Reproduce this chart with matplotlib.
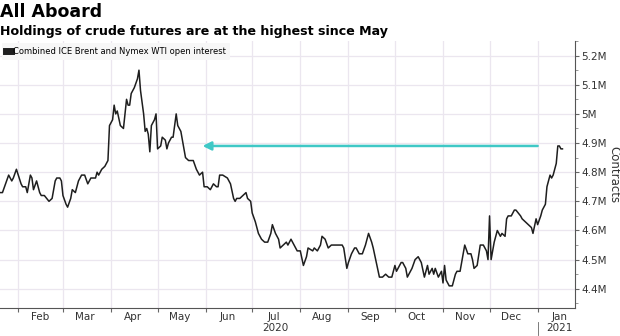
import numpy as np
import pandas as pd
import matplotlib
matplotlib.use("Agg")
import matplotlib.pyplot as plt
import matplotlib.dates as mdates

# days since 2020-01-01
day = [19, 21, 23, 25, 26, 27, 28, 30, 33, 34, 36, 37, 39, 40, 41, 43, 45, 46, 48, 51,
       53, 55, 56, 58, 59, 60, 62, 63, 65, 66, 68, 70, 72, 74, 76, 78, 81, 82, 83, 85,
       87, 88, 89, 90, 92, 93, 94, 95, 97, 99, 101, 102, 103, 104, 106, 108, 109, 110, 112, 113,
       114, 115, 116, 117, 119, 120, 121, 123, 124, 126, 127, 128, 130, 131, 133, 134, 136, 139, 141, 143,
       144, 146, 148, 150, 151, 153, 155, 157, 159, 160, 161, 163, 166, 168, 170, 171, 172, 174, 176, 178,
       179, 181, 182, 184, 186, 188, 190, 192, 194, 195, 197, 199, 200, 202, 204, 205, 207, 208, 211, 213,
       215, 217, 218, 221, 222, 224, 226, 227, 229, 231, 233, 235, 237, 240, 241, 243, 244, 246, 248, 249,
       251, 253, 255, 257, 259, 260, 262, 264, 266, 268, 270, 272, 274, 275, 278, 279, 281, 282, 285, 287,
       289, 291, 293, 295, 296, 298, 299, 300, 302, 304, 305, 306, 307, 308, 309, 311, 313, 314, 316, 318,
       319, 321, 323, 324, 325, 327, 329, 331, 333, 334, 335, 336, 338, 340, 342, 343, 345, 346, 347, 349,
       351, 352, 355, 356, 358, 360, 362, 363, 365, 366, 368, 369, 371, 372, 374, 375, 376, 378, 379, 380,
       381, 382]
# open interest, million contracts
oi = [4.73, 4.73, 4.76, 4.79, 4.78, 4.77, 4.78, 4.81, 4.76, 4.75, 4.75, 4.73, 4.79, 4.78, 4.74, 4.77, 4.73, 4.72, 4.72, 4.70,
      4.71, 4.77, 4.78, 4.78, 4.77, 4.72, 4.69, 4.68, 4.71, 4.74, 4.73, 4.77, 4.79, 4.79, 4.76, 4.78, 4.78, 4.80, 4.79, 4.81,
      4.82, 4.83, 4.84, 4.96, 4.98, 5.03, 5.00, 5.01, 4.96, 4.95, 5.05, 5.03, 5.03, 5.07, 5.09, 5.12, 5.15, 5.08, 5.00, 4.94,
      4.95, 4.93, 4.87, 4.96, 4.98, 5.00, 4.88, 4.89, 4.92, 4.91, 4.88, 4.90, 4.92, 4.92, 5.00, 4.96, 4.94, 4.85, 4.84, 4.84,
      4.84, 4.81, 4.79, 4.80, 4.75, 4.75, 4.74, 4.76, 4.75, 4.75, 4.79, 4.79, 4.78, 4.76, 4.71, 4.70, 4.71, 4.71, 4.72, 4.73,
      4.71, 4.70, 4.66, 4.63, 4.59, 4.57, 4.56, 4.56, 4.59, 4.62, 4.59, 4.57, 4.54, 4.55, 4.56, 4.55, 4.57, 4.56, 4.53, 4.53,
      4.48, 4.51, 4.54, 4.53, 4.54, 4.53, 4.55, 4.58, 4.57, 4.54, 4.55, 4.55, 4.55, 4.55, 4.54, 4.47, 4.49, 4.52, 4.54, 4.54,
      4.52, 4.52, 4.55, 4.59, 4.56, 4.54, 4.49, 4.44, 4.44, 4.45, 4.44, 4.44, 4.48, 4.46, 4.49, 4.49, 4.47, 4.44, 4.47, 4.50,
      4.51, 4.49, 4.44, 4.48, 4.45, 4.47, 4.45, 4.47, 4.44, 4.46, 4.42, 4.48, 4.43, 4.42, 4.41, 4.41, 4.45, 4.46, 4.46, 4.52,
      4.55, 4.52, 4.52, 4.50, 4.47, 4.48, 4.55, 4.55, 4.53, 4.50, 4.65, 4.50, 4.56, 4.60, 4.58, 4.59, 4.58, 4.64, 4.65, 4.65,
      4.67, 4.67, 4.65, 4.64, 4.63, 4.62, 4.61, 4.59, 4.64, 4.62, 4.65, 4.67, 4.69, 4.75, 4.79, 4.78, 4.79, 4.83, 4.89, 4.89,
      4.88, 4.88]

yticks = [4.4, 4.5, 4.6, 4.7, 4.8, 4.9, 5.0, 5.1, 5.2]
ytick_labels = ["4.4M", "4.5M", "4.6M", "4.7M", "4.8M", "4.9M", "5M", "5.1M", "5.2M"]
arrow_level = 4.89
arrow_start = "2021-01-01"
arrow_end = "2020-05-30"

dates = pd.Timestamp("2020-01-01") + pd.to_timedelta(day, unit="D")

fig = plt.figure(figsize=(6.2, 3.36), dpi=100)
ax = fig.add_axes([0.0, 0.0833, 0.927, 0.7946])

grid_c = "#ebe6ef"
ax.plot(dates, oi, color="#1e1e1e", lw=1.1, label="Combined ICE Brent and Nymex WTI open interest", zorder=3)

# arrow pointing back to the May level
ax.annotate("", xy=(pd.Timestamp(arrow_end), arrow_level), xytext=(pd.Timestamp(arrow_start), arrow_level),
            arrowprops=dict(arrowstyle="-|>,head_length=0.5,head_width=0.25", color="#3fc8c6", lw=1.8,
                            shrinkA=0, shrinkB=0), zorder=2)

ax.set_xlim(pd.Timestamp("2020-01-20 10:00"), pd.Timestamp("2021-01-24 22:00"))
ax.set_ylim(4.334, 5.213)

# y axis on the right
ax.yaxis.tick_right()
ax.yaxis.set_label_position("right")
ax.set_yticks(yticks)
ax.set_yticklabels(ytick_labels, fontsize=7.5, color="#333333")
ax.set_yticks(np.arange(4.35, 5.25, 0.1), minor=True)
ax.tick_params(axis="y", which="major", length=3, width=0.8, color="#666666", pad=1.5)
ax.tick_params(axis="y", which="minor", length=2, width=0.6, color="#888888")
ax.set_ylabel("Contracts", fontsize=8.5, rotation=270, labelpad=10, color="#333333")

# months: ticks on boundaries, labels mid month
ax.xaxis.set_major_locator(mdates.MonthLocator())
ax.xaxis.set_major_formatter(plt.NullFormatter())
ax.xaxis.set_minor_locator(mdates.MonthLocator(bymonthday=15))
ax.xaxis.set_minor_formatter(mdates.DateFormatter("%b"))
ax.tick_params(axis="x", which="major", length=3, width=0.8, color="#666666")
ax.tick_params(axis="x", which="minor", length=0, labelsize=7.5, labelcolor="#333333", pad=3)

ax.grid(True, which="major", color=grid_c, lw=0.9, zorder=0)
for s in ["top", "left"]:
    ax.spines[s].set_visible(False)
for s in ["right", "bottom"]:
    ax.spines[s].set_color("#555555")
    ax.spines[s].set_linewidth(0.8)

trans = ax.get_xaxis_transform()
ax.text(pd.Timestamp("2020-07-16"), -0.076, "2020", transform=trans, ha="center", va="center",
        fontsize=7.5, color="#333333")
ax.text(pd.Timestamp("2021-01-15"), -0.076, "2021", transform=trans, ha="center", va="center",
        fontsize=7.5, color="#333333")
ax.plot([pd.Timestamp("2021-01-01")] * 2, [-0.052, -0.1], transform=trans, color="#666666",
        lw=0.6, clip_on=False)

leg = ax.legend(loc="upper left", bbox_to_anchor=(0.0, 1.0), frameon=True, fontsize=6,
                handlelength=0.6, handletextpad=0.3, borderpad=0.5, borderaxespad=0.2)
leg.get_frame().set_facecolor("#f7f7f7")
leg.get_frame().set_edgecolor("none")
leg.get_frame().set_alpha(1)
h = leg.legend_handles[0]
h.set_linewidth(5)

fig.text(0.0, 0.965, "All Aboard", fontsize=12.5, fontweight="bold", ha="left", va="center")
fig.text(0.0, 0.907, "Holdings of crude futures are at the highest since May", fontsize=9.1,
         fontweight="bold", ha="left", va="center")

fig.savefig("out.png", dpi=100)
